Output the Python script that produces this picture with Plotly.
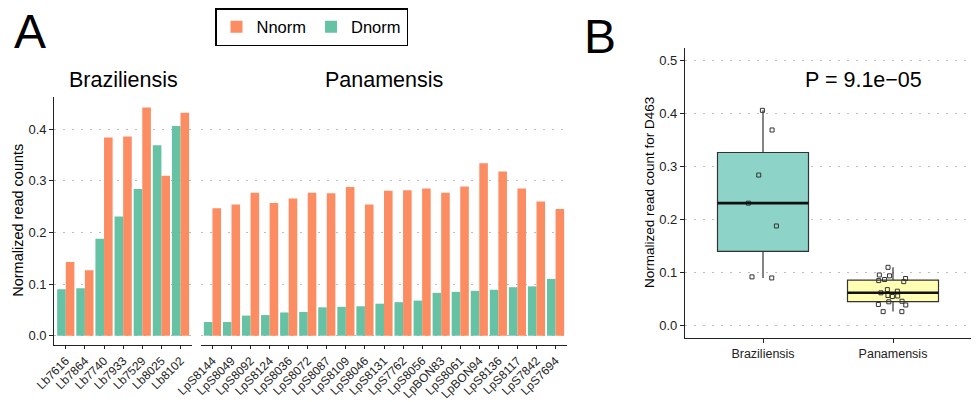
import numpy as np
import plotly.graph_objects as go

# ---------------- data ----------------
braz_samples = ["Lb7616", "Lb7864", "Lb7740", "Lb7933", "Lb7529", "Lb8025", "Lb8102"]
braz_dnorm = [0.090, 0.092, 0.188, 0.231, 0.284, 0.369, 0.406]
braz_nnorm = [0.143, 0.127, 0.384, 0.386, 0.442, 0.310, 0.432]

pan_samples = ["LpS8144", "LpS8049", "LpS8092", "LpS8124", "LpS8036", "LpS8072", "LpS8087",
               "LpS8109", "LpS8046", "LpS8131", "LpS7762", "LpS8056", "LpBON83", "LpS8061",
               "LpBON94", "LpS8136", "LpS8117", "LpS7842", "LpS7694"]
pan_dnorm = [0.0265, 0.0265, 0.039, 0.040, 0.045, 0.046, 0.055, 0.056, 0.057, 0.062,
             0.065, 0.068, 0.083, 0.085, 0.087, 0.089, 0.094, 0.0956, 0.110]
pan_nnorm = [0.247, 0.254, 0.277, 0.257, 0.266, 0.277, 0.276, 0.288, 0.254, 0.281,
             0.282, 0.285, 0.277, 0.289, 0.334, 0.318, 0.285, 0.260, 0.2455]

groups = ["Braziliensis", "Panamensis"]
p_label = "P = 9.1e\u221205"

# ---------------- style ----------------
W, H = 977, 402
FONT = "Liberation Sans, Arial, Helvetica, sans-serif"
C_N = "#FC8D62"
C_D = "#66C2A5"
BOX_FILL = ["#8DD3C7", "#FFFFB3"]
GRID = "#BDBDBD"
AX = "#222222"
BOX_W = 0.7


def px_x(p):
    return p / W


def px_y(p):
    return 1 - p / H


fig = go.Figure()

# bars: Dnorm first (left of pair), Nnorm second
fig.add_trace(go.Bar(x=braz_samples, y=braz_dnorm, name="Dnorm", marker_color=C_D,
                     marker_line_width=0, xaxis="x", yaxis="y", legendrank=2,
                     showlegend=True, legendgroup="D"))
fig.add_trace(go.Bar(x=braz_samples, y=braz_nnorm, name="Nnorm", marker_color=C_N,
                     marker_line_width=0, xaxis="x", yaxis="y", legendrank=1,
                     showlegend=True, legendgroup="N"))
fig.add_trace(go.Bar(x=pan_samples, y=pan_dnorm, name="Dnorm", marker_color=C_D,
                     marker_line_width=0, xaxis="x2", yaxis="y2", showlegend=False,
                     legendgroup="D"))
fig.add_trace(go.Bar(x=pan_samples, y=pan_nnorm, name="Nnorm", marker_color=C_N,
                     marker_line_width=0, xaxis="x2", yaxis="y2", showlegend=False,
                     legendgroup="N"))

# box plots
for g, vals, fill in zip(groups, [braz_dnorm, pan_dnorm], BOX_FILL):
    fig.add_trace(go.Box(x=[g] * len(vals), y=vals, name=g, xaxis="x3", yaxis="y3",
                         fillcolor=fill, line=dict(color="#333333", width=1.2),
                         whiskerwidth=0, width=BOX_W, boxpoints="all", jitter=0.38,
                         pointpos=0, quartilemethod="inclusive",
                         marker=dict(symbol="square-open", size=4, color="#333333",
                                     line=dict(width=1, color="#333333")),
                         showlegend=False, hoverinfo="y"))

# thicker median lines (as in ggplot)
shapes = []
for i, vals in enumerate([braz_dnorm, pan_dnorm]):
    m = float(np.median(vals))
    shapes.append(dict(type="line", xref="x3", yref="y3", x0=i - BOX_W / 2, x1=i + BOX_W / 2,
                       y0=m, y1=m, line=dict(color="#111111", width=2.6), layer="above"))

tickfont = dict(family=FONT, size=13, color=AX)
xtickfont = dict(family=FONT, size=12, color=AX)

common_y = dict(showgrid=True, gridcolor=GRID, gridwidth=1.4, griddash="1.5px,7.5px",
                zeroline=False, tickvals=[0, 0.1, 0.2, 0.3, 0.4],
                ticktext=["0.0", "0.1", "0.2", "0.3", "0.4"], automargin=False)

y_dom_a = [px_y(345), px_y(96.7)]
y_dom_b = [px_y(338.3), px_y(48.3)]

fig.update_layout(
    width=W, height=H, autosize=False,
    margin=dict(l=0, r=0, t=0, b=0, pad=0, autoexpand=False),
    paper_bgcolor="white", plot_bgcolor="white",
    barmode="group", bargap=0.1, bargroupgap=0,
    boxmode="overlay",
    font=dict(family=FONT, color="#000000"),
    xaxis=dict(domain=[px_x(54.3), px_x(192)], range=[-0.6, 6.6], type="category",
               anchor="y", showline=True, linecolor=AX, linewidth=1.2, ticks="outside",
               ticklen=3, tickcolor=AX, tickangle=-45, tickfont=xtickfont, showgrid=False,
               automargin=False),
    xaxis2=dict(domain=[px_x(201), px_x(567)], range=[-0.6, 18.6], type="category",
                anchor="y2", showline=True, linecolor=AX, linewidth=1.2, ticks="outside",
                ticklen=3, tickcolor=AX, tickangle=-45, tickfont=xtickfont, showgrid=False,
                automargin=False),
    yaxis=dict(domain=y_dom_a, range=[-0.018, 0.463], anchor="x", showline=True,
               linecolor=AX, linewidth=1.2, ticks="outside", ticklen=4, tickcolor=AX,
               tickfont=tickfont, **common_y),
    yaxis2=dict(domain=y_dom_a, range=[-0.018, 0.463], anchor="x2", showline=False,
                showticklabels=False, ticks="", **common_y),
    xaxis3=dict(domain=[px_x(685), px_x(971)], range=[-0.6, 1.6], type="category",
                anchor="y3", showline=True, linecolor=AX, linewidth=1.2, ticks="outside",
                ticklen=4, tickcolor=AX, tickfont=dict(family=FONT, size=12.5, color=AX),
                showgrid=False, automargin=False),
    yaxis3=dict(domain=y_dom_b, range=[-0.0238, 0.523], anchor="x3", showline=True,
                linecolor=AX, linewidth=1.2, ticks="outside", ticklen=4, tickcolor=AX,
                tickfont=tickfont, showgrid=True, gridcolor=GRID, gridwidth=1.4,
                griddash="1.5px,7.5px", zeroline=False, automargin=False,
                tickvals=[0, 0.1, 0.2, 0.3, 0.4, 0.5],
                ticktext=["0.0", "0.1", "0.2", "0.3", "0.4", "0.5"]),
    legend=dict(orientation="h", x=px_x(215), y=px_y(8), xanchor="left", yanchor="top",
                bordercolor="#000000", borderwidth=1.5, bgcolor="white",
                font=dict(family=FONT, size=16.5, color="#000000"),
                traceorder="normal", itemclick=False),
    shapes=shapes,
)

ann = [
    dict(text="A", x=px_x(30), y=px_y(31), font=dict(size=48)),
    dict(text="B", x=px_x(600), y=px_y(36), font=dict(size=48)),
    dict(text="Braziliensis", x=px_x(123.5), y=px_y(80), font=dict(size=21.5)),
    dict(text="Panamensis", x=px_x(384), y=px_y(80), font=dict(size=21.5)),
    dict(text="Normalized read counts", x=px_x(18), y=px_y(220.8), textangle=-90,
         font=dict(size=14.5)),
    dict(text="Normalized read count for D463", x=px_x(649), y=px_y(193), textangle=-90,
         font=dict(size=13.5)),
    dict(text=p_label, x=px_x(863), y=px_y(80), font=dict(size=21.5)),
]
for a in ann:
    a.update(xref="paper", yref="paper", showarrow=False, xanchor="center",
             yanchor="middle")
    a["font"].update(family=FONT, color="#000000")
fig.update_layout(annotations=ann)

fig.write_html("out.html",
               config={"displayModeBar": False},
               post_script="document.body.style.margin='0';"
                           "document.body.style.overflow='hidden';")
